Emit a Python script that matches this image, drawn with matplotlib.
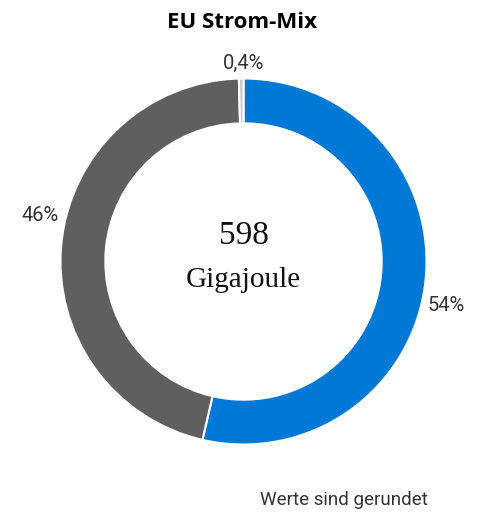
import numpy as np
import matplotlib
matplotlib.use('Agg')
import matplotlib.pyplot as plt

# Daten
labels = ['54%', '46%', '0,4%']
values = [53.6, 46.0, 0.4]
colors = ['#0078d6', '#5f5f5f', '#c8c8c8']
title = 'EU Strom-Mix'
center_value = '598'
center_unit = 'Gigajoule'
note = 'Werte sind gerundet'

fig = plt.figure(figsize=(4.84, 5.13), dpi=100)
W, H = 484, 513
r_px = 183
lim = 1.3
size = r_px * lim * 2
cx, cy = 243.5, H - 261.5
ax = fig.add_axes([(cx - size / 2) / W, (cy - size / 2) / H, size / W, size / H])

wedges, texts = ax.pie(values, labels=labels, colors=colors, startangle=90,
                       counterclock=False, labeldistance=1.05,
                       wedgeprops=dict(width=0.245, edgecolor='white', linewidth=1.5),
                       textprops=dict(fontsize=14.5, color='#333333', family='Roboto'))
# Beschriftungen direkt am Ring
texts[0].set_position((1.005, -0.243))
texts[0].set_ha('left')
texts[0].set_va('center')
texts[1].set_position((-1.008, 0.251))
texts[1].set_ha('right')
texts[1].set_va('center')
texts[2].set_position((0, 1.085))
texts[2].set_ha('center')
texts[2].set_va('center')
ax.set_xlim(-lim, lim)
ax.set_ylim(-lim, lim)

ax.text(0, 0.14, center_value, ha='center', va='center', fontsize=24,
        family='Liberation Serif', color='#111111')
ax.text(0, -0.14, center_unit, ha='center', va='baseline', fontsize=21,
        family='Liberation Serif', color='#111111')

fig.text(242 / W, 1 - 22 / H, title, ha='center', va='center', fontsize=16,
         fontweight='bold', family='Open Sans')
fig.text(344 / W, 1 - 500 / H, note, ha='center', va='center', fontsize=13.5,
         family='Roboto', color='#333333')

fig.savefig('out.png', dpi=100)
